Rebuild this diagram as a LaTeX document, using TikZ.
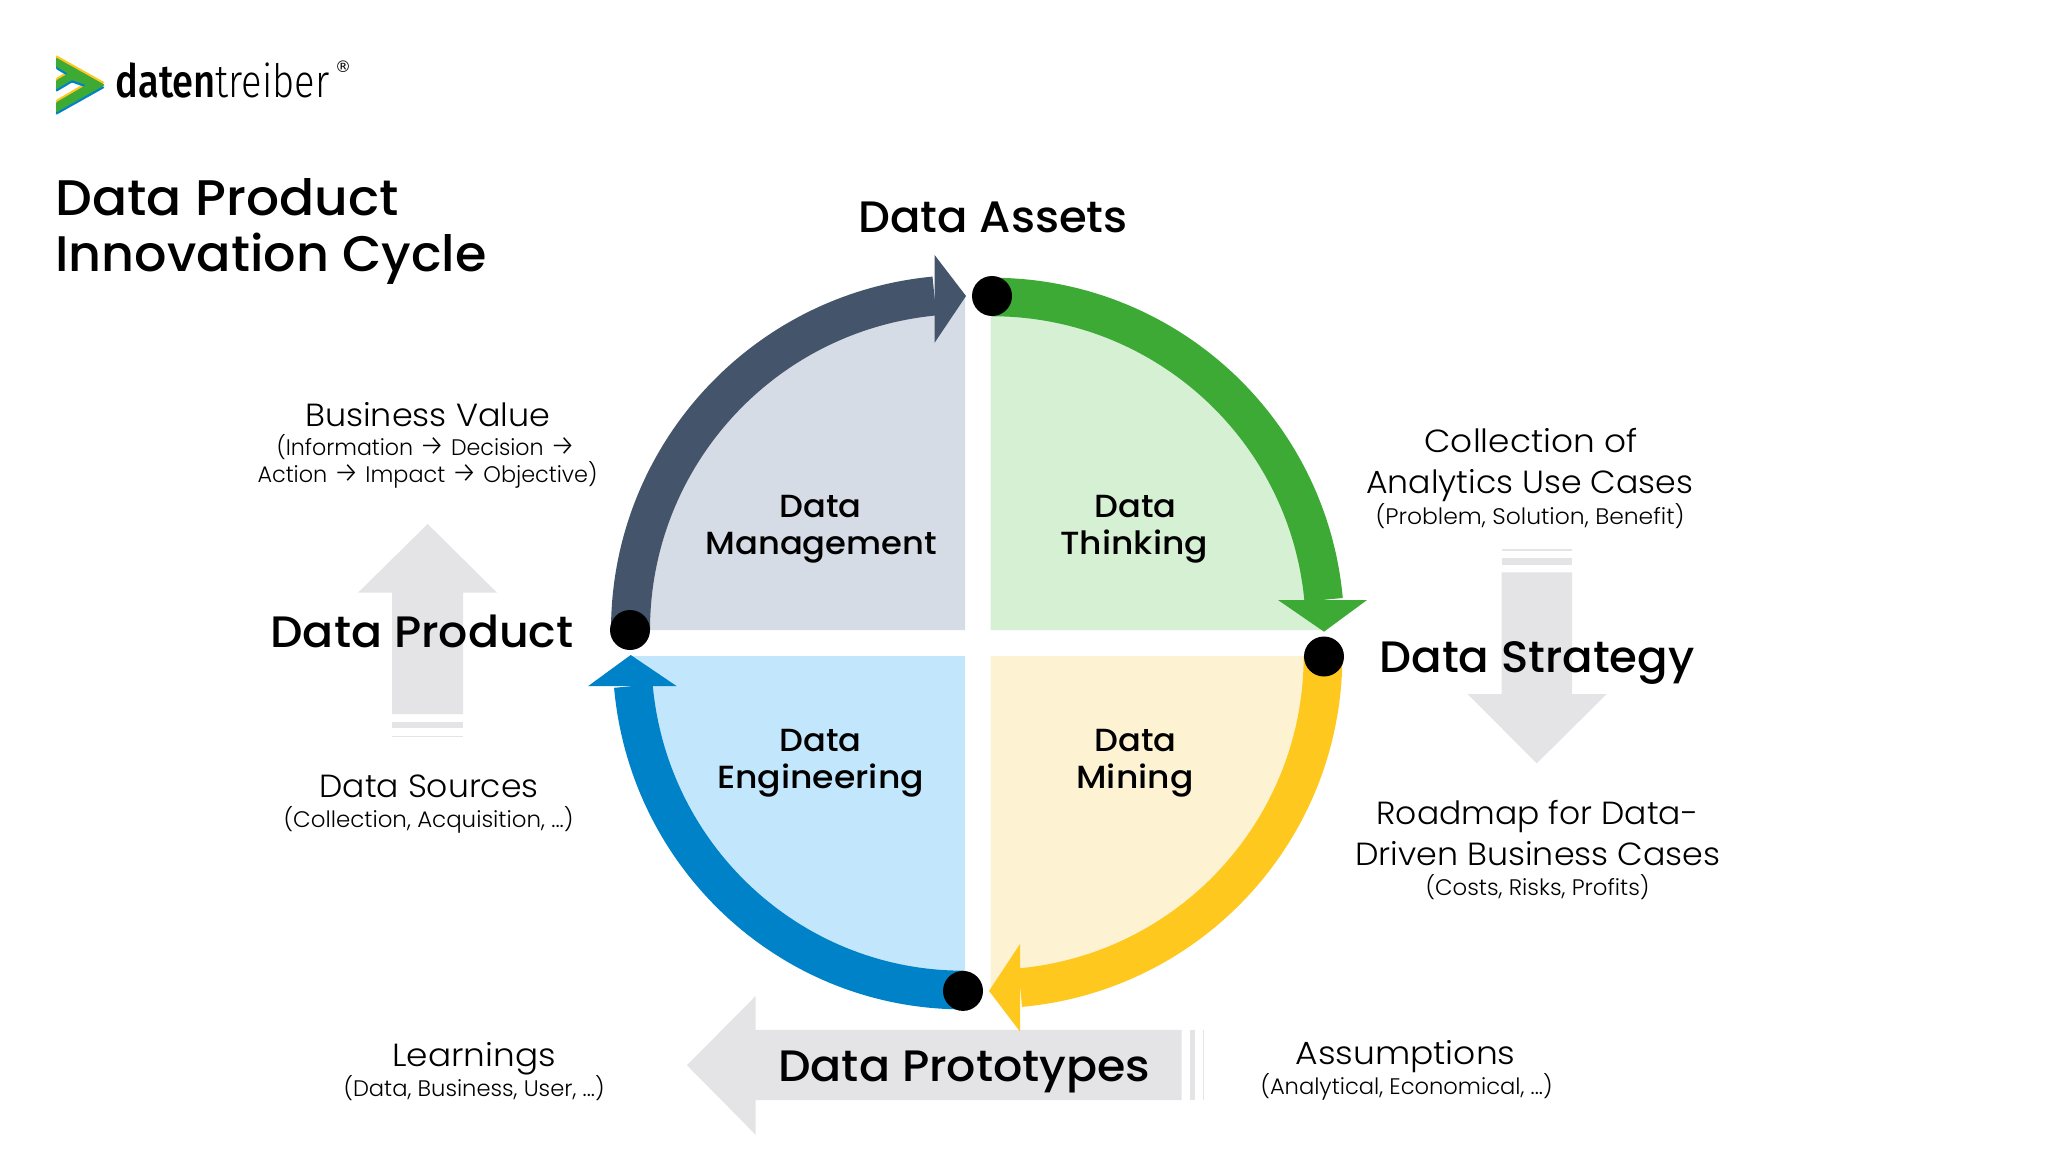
\documentclass[tikz,border=0pt]{standalone}
\usepackage{fontspec}
\usepackage{graphicx}
\setmainfont{Poppins}[UprightFont=* Light]
\newfontfamily\med{Poppins}[UprightFont=* Medium]
\newfontfamily\arrf{Fira Sans}[UprightFont=* Light]
\newcommand\arr{{\arrf\fontsize{29}{29}\selectfont →}}
\newfontfamily\regm{DejaVu Sans}
\newfontfamily\logofont{Fira Sans}[UprightFont=* Medium]
\newfontfamily\logolight{Fira Sans}[UprightFont=* Light]
\definecolor{cdark}{HTML}{44546A}
\definecolor{cgreen}{HTML}{3CAA35}
\definecolor{cblue}{HTML}{0082C8}
\definecolor{cyel}{HTML}{FFC81E}
\definecolor{qdark}{HTML}{D6DCE5}
\definecolor{qgreen}{HTML}{D5F0D3}
\definecolor{qblue}{HTML}{C2E6FB}
\definecolor{qyel}{HTML}{FDF3D3}
\definecolor{cgray}{HTML}{E4E4E7}
\newlength\fwlen
\newcommand\fw[2]{\settowidth\fwlen{#2}\pgfmathsetmacro\fwf{(#1+3)/\the\fwlen}\scalebox{\fwf}[1]{#2}}
\newcommand\logoshape[2]{\fill[#1,logopart,yshift=#2] (56,57.5) -- (105,85) -- (56,112.5) -- (56,102.5) -- (86,85) -- (72,80) -- (56,89.5) -- (56,80.5) -- (68,73.5) -- (56,66.5) -- cycle;}
\tikzset{
  tl/.style={anchor=base west,inner sep=0pt,outer sep=0pt,text=black,xshift=-1.5pt},
  ttl/.style={tl,font=\med\fontsize{50}{50}\selectfont},
  big/.style={tl,font=\med\fontsize{44}{44}\selectfont},
  quad/.style={tl,font=\med\fontsize{32}{32}\selectfont},
  lab/.style={tl,font=\fontsize{32}{32}\selectfont},
  sub/.style={tl,font=\fontsize{22.5}{22.5}\selectfont},
  dotn/.style={circle,fill=black,minimum size=40pt,inner sep=0pt,outer sep=0pt},
  grayar/.style={fill=cgray,draw=none},
  logopart/.style={rounded corners=1pt},
}
\begin{document}
\begin{tikzpicture}[x=1pt,y=1pt,yscale=-1]
\useasboundingbox (0,0) rectangle (2048,1152);
\fill[white] (0,0) rectangle (2048,1152);
% logo
\logoshape{cyel}{-2.5pt}
\logoshape{cblue}{2.5pt}
\logoshape{cgreen}{0pt}
\node[tl,font=\fontsize{46}{46}\selectfont] (logo) at (117,97) {\fw{211}{\logofont daten\logolight treiber}};
\node[anchor=center,inner sep=0pt,font=\regm\fontsize{16}{16}\selectfont] (reg) at (343,67) {®};
% title
\node[ttl] (t1) at (57,215) {\fw{340}{Data Product}};
\node[ttl] (t2) at (57,271) {\fw{428}{Innovation Cycle}};
% gray arrows
\fill[grayar] (427.7,524) -- (497,592.7) -- (463,592.7) -- (463,714) -- (392,714) -- (392,592.7) -- (358,592.7) -- cycle;
\fill[grayar] (392,722) rectangle (463,728);
\fill[grayar] (392,736) rectangle (463,737.3);
\fill[grayar] (1536.7,763.4) -- (1606.7,694) -- (1572,694) -- (1572,572.4) -- (1501.7,572.4) -- (1501.7,694) -- (1467.7,694) -- cycle;
\fill[grayar] (1501.7,558.2) rectangle (1572,565);
\fill[grayar] (1501.7,549) rectangle (1572,550.5);
\fill[grayar] (687,1065.2) -- (755.7,996) -- (755.7,1029.9) -- (1181.5,1029.9) -- (1181.5,1100.2) -- (755.7,1100.2) -- (755.7,1134.8) -- cycle;
\fill[grayar] (1190,1029.9) rectangle (1195,1100.2);
\fill[grayar] (1203.2,1029.9) rectangle (1204.4,1100.2);
% quadrants
\fill[qdark] (965,630) -- (630.5,630) arc[start angle=180,end angle=270,radius=335.5pt] -- (965,294.5) -- cycle;
\fill[qgreen] (990.6,630) -- (990.6,297) -- (992,297) arc[start angle=270,end angle=360,radius=333pt] -- cycle;
\fill[qyel] (990.6,656) -- (1323,656) arc[start angle=0,end angle=90,radius=333pt] -- (990.6,989) -- cycle;
\fill[qblue] (965,656) -- (965,990) -- (963,990) arc[start angle=90,end angle=180,x radius=331pt,y radius=334pt] -- cycle;
% cycle arrows
\draw[cdark,line width=39pt] (630.5,630) arc[start angle=180,end angle=264.6,radius=335.5pt];
\fill[cdark] (934.6,255) -- (966,296) -- (934.6,342.7) -- cycle;
\draw[cgreen,line width=38.5pt] (992,297) arc[start angle=270,end angle=354.8,radius=333pt];
\fill[cgreen] (1278,600) -- (1367,600) -- (1324,631.7) -- cycle;
\draw[cyel,line width=38.7pt] (1323,656) arc[start angle=0,end angle=84.8,radius=333pt];
\fill[cyel] (1020,944) -- (989,990.9) -- (1020,1031.6) -- cycle;
\draw[cblue,line width=38.7pt] (963,990) arc[start angle=90,end angle=174.85,x radius=331pt,y radius=334pt];
\fill[cblue] (588,686.2) -- (630.7,655) -- (676.8,686.2) -- cycle;
% dots
\node[dotn] (assets) at (992,296) {};
\node[dotn] (strategy) at (1324,656.5) {};
\node[dotn] (prototypes) at (963,990.9) {};
\node[dotn] (product) at (630,630) {};
% quadrant labels
\node[quad] (q1a) at (781,517) {\fw{79}{Data}};
\node[quad] (q1b) at (707,554) {\fw{228.6}{Management}};
\node[quad] (q2a) at (1096,517) {\fw{79}{Data}};
\node[quad] (q2b) at (1062,554) {\fw{144.5}{Thinking}};
\node[quad] (q3a) at (781,751.3) {\fw{79}{Data}};
\node[quad] (q3b) at (718.6,788.6) {\fw{204}{Engineering}};
\node[quad] (q4a) at (1096,751.3) {\fw{79}{Data}};
\node[quad] (q4b) at (1078,788.6) {\fw{114}{Mining}};
% big labels
\node[big] (l1) at (860,232) {\fw{266}{Data Assets}};
\node[big] (l2) at (1381,672) {\fw{312}{Data Strategy}};
\node[big] (l3) at (779.8,1081) {\fw{369}{Data Prototypes}};
\node[big] (l4) at (272,647) {\fw{300}{Data Product}};
% side texts
\node[lab] (a1) at (306.7,426.5) {\fw{242}{Business Value}};
\node[sub] (a2) at (278,455) {\fw{296}{(Information \arr{} Decision \arr}};
\node[sub] (a3) at (259,482.7) {\fw{337}{Action \arr{} Impact \arr{} Objective)}};
\node[lab] (b1) at (321,797) {\fw{216}{Data Sources}};
\node[sub] (b2) at (285,827) {\fw{287}{(Collection, Acquisition, ...)}};
\node[lab] (c1) at (1426,452.4) {\fw{210}{Collection of}};
\node[lab] (c2) at (1367.7,493.6) {\fw{324}{Analytics Use Cases}};
\node[sub] (c3) at (1377,524) {\fw{306}{(Problem, Solution, Benefit)}};
\node[lab] (d1) at (1378,824.3) {\fw{318.7}{Roadmap for Data-}};
\node[lab] (d2) at (1356.7,865.5) {\fw{362.3}{Driven Business Cases}};
\node[sub] (d3) at (1427,895.3) {\fw{221}{(Costs, Risks, Profits)}};
\node[lab] (e1) at (394,1066) {\fw{160.3}{Learnings}};
\node[sub] (e2) at (345,1096) {\fw{258}{(Data, Business, User, ...)}};
\node[lab] (f1) at (1297,1064.3) {\fw{217}{Assumptions}};
\node[sub] (f2) at (1262,1094) {\fw{289}{(Analytical, Economical, ...)}};
\end{tikzpicture}
\end{document}
